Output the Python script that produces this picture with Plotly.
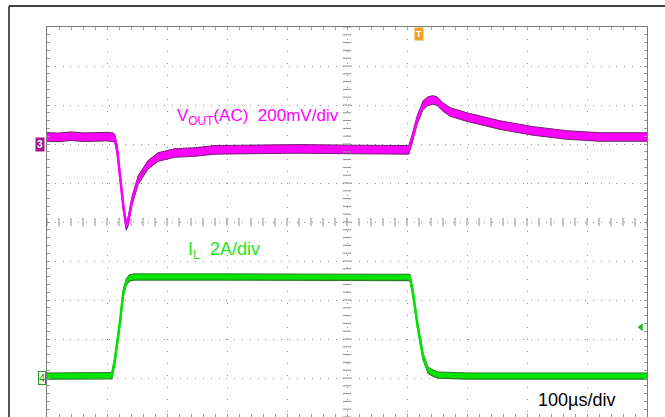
import plotly.graph_objects as go

# ---------------- data (read from the scope capture) ----------------
# time axis in microseconds (100 us/div, 10 divisions)
t_vout = [0, 20, 40, 60, 80, 100, 110, 113, 117, 122, 127, 132, 135, 142, 152, 168,
          185, 213, 247, 280, 338, 422, 505, 588, 603, 608, 617, 627, 635, 643, 650,
          660, 672, 700, 755, 810, 867, 922, 977, 1000]
# output voltage ripple, AC coupled, mV (200 mV/div)
v_out_mv = [36, 34, 40, 35, 36, 38, 35, 28, -31, -185, -313, -420, -400, -287, -185, -108,
            -67, -46, -41, -30, -28, -25, -28, -30, -30, 20, 123, 200, 220, 226, 220,
            190, 164, 138, 97, 67, 46, 36, 36, 36]

t_il = [0, 100, 108, 113, 117, 122, 127, 132, 137, 145, 300, 500, 600, 605, 610, 618,
        627, 635, 643, 652, 700, 850, 1000]
# inductor current, A (2 A/div)
i_l_a = [0.1, 0.1, 0.12, 0.9, 1.8, 2.97, 4.36, 4.92, 5.13, 5.18, 5.18, 5.18, 5.18, 5.16,
         4.36, 2.62, 1.08, 0.41, 0.26, 0.15, 0.1, 0.1, 0.1]

trigger_time_us = 620
trigger_level_a = 2.6

# ---------------- styling ----------------
V_PER_DIV = 200.0
A_PER_DIV = 2.0
US_PER_DIV = 100.0
V_ZERO_DIV = 7   # channel 3 reference, divisions above bottom
A_ZERO_DIV = 1   # channel 4 reference
V_NOISE = 22.0   # half band of trace noise (mV)
A_NOISE = 0.16   # half band of trace noise (A)

MAGENTA = "#ff00ff"
MAG_EDGE = "#6e1f66"
GREEN = "#00e600"
GRN_EDGE = "#2d7a2d"
GRID = "#8f8f8f"
FONT = "Liberation Sans, Arial, sans-serif"

v_lo = -V_ZERO_DIV * V_PER_DIV
v_hi = (10 - V_ZERO_DIV) * V_PER_DIV
a_lo = -A_ZERO_DIV * A_PER_DIV
a_hi = (10 - A_ZERO_DIV) * A_PER_DIV

fig = go.Figure()

# Inductor current band
fig.add_trace(go.Scatter(x=t_il, y=[v + A_NOISE for v in i_l_a], yaxis="y2",
                         mode="lines", line=dict(color=GRN_EDGE, width=1),
                         showlegend=False, hoverinfo="skip"))
fig.add_trace(go.Scatter(x=t_il, y=[v - A_NOISE for v in i_l_a], yaxis="y2",
                         mode="lines", line=dict(color=GRN_EDGE, width=1.3),
                         fill="tonexty", fillcolor=GREEN,
                         showlegend=False, hoverinfo="skip"))
fig.add_trace(go.Scatter(x=t_il, y=i_l_a, yaxis="y2", mode="lines",
                         line=dict(color=GREEN, width=2.5),
                         showlegend=False, hoverinfo="skip"))

# Output voltage band
fig.add_trace(go.Scatter(x=t_vout, y=[v + V_NOISE for v in v_out_mv],
                         mode="lines", line=dict(color=MAG_EDGE, width=1),
                         showlegend=False, hoverinfo="skip"))
fig.add_trace(go.Scatter(x=t_vout, y=[v - V_NOISE for v in v_out_mv],
                         mode="lines", line=dict(color=MAG_EDGE, width=1),
                         fill="tonexty", fillcolor=MAGENTA,
                         showlegend=False, hoverinfo="skip"))
fig.add_trace(go.Scatter(x=t_vout, y=v_out_mv, mode="lines",
                         line=dict(color=MAGENTA, width=2.5),
                         showlegend=False, hoverinfo="skip"))

# center-line graticule ticks
x_min = [k * US_PER_DIV / 5 for k in range(51)]
y_min = [v_lo + k * V_PER_DIV / 5 for k in range(51)]
x_mid = 5 * US_PER_DIV
y_mid = v_lo + 5 * V_PER_DIV
fig.add_trace(go.Scatter(x=x_min, y=[y_mid] * len(x_min), mode="markers",
                         marker=dict(symbol="line-ns", size=6,
                                     line=dict(color=GRID, width=1)),
                         showlegend=False, hoverinfo="skip"))
fig.add_trace(go.Scatter(x=[x_mid] * len(y_min), y=y_min, mode="markers",
                         marker=dict(symbol="line-ew", size=6,
                                     line=dict(color=GRID, width=1)),
                         showlegend=False, hoverinfo="skip"))

# trigger level arrow (right edge)
fig.add_trace(go.Scatter(x=[990], y=[trigger_level_a], yaxis="y2", mode="markers",
                         marker=dict(symbol="triangle-left", size=7, color="#22bb22"),
                         showlegend=False, hoverinfo="skip", cliponaxis=False))

W, H = 665, 417
x0p, x1p = 47 / W, 647 / W
ytop = (H - 27) / H

fig.update_layout(
    width=W, height=H,
    margin=dict(l=0, r=0, t=0, b=0),
    paper_bgcolor="white", plot_bgcolor="white",
    showlegend=False,
    xaxis=dict(domain=[x0p, x1p], range=[0, 10 * US_PER_DIV], dtick=US_PER_DIV,
               showgrid=True, gridcolor=GRID, gridwidth=1, griddash="1px,11px",
               showline=True, linecolor="#7a7a7a", linewidth=1, mirror="ticks",
               ticks="inside", ticklen=3, tickcolor="#9a9a9a",
               minor=dict(dtick=US_PER_DIV / 5, ticks="inside", ticklen=3,
                          tickcolor="#9a9a9a", showgrid=False),
               showticklabels=False, zeroline=False, fixedrange=True),
    yaxis=dict(domain=[0, ytop], range=[v_lo, v_hi], dtick=V_PER_DIV,
               showgrid=True, gridcolor=GRID, gridwidth=1, griddash="1px,6.8px",
               showline=True, linecolor="#7a7a7a", linewidth=1, mirror="ticks",
               ticks="inside", ticklen=3, tickcolor="#9a9a9a",
               minor=dict(dtick=V_PER_DIV / 5, ticks="inside", ticklen=3,
                          tickcolor="#9a9a9a", showgrid=False),
               showticklabels=False, zeroline=False, fixedrange=True),
    yaxis2=dict(overlaying="y", range=[a_lo, a_hi], showgrid=False, showline=False,
                ticks="", showticklabels=False, zeroline=False, fixedrange=True),
    shapes=[
        dict(type="line", xref="paper", yref="paper", x0=9 / W, x1=1,
             y0=1 - 6 / H, y1=1 - 6 / H, line=dict(color="black", width=1.5)),
        dict(type="line", xref="paper", yref="paper", x0=9 / W, x1=9 / W,
             y0=0, y1=1 - 6 / H, line=dict(color="#555555", width=2)),
    ],
    annotations=[
        dict(text="V<sub>OUT</sub>(AC)\u00a0\u00a0200mV/div", x=213, y=138,
             xref="x", yref="y", xanchor="left", yanchor="middle", showarrow=False,
             font=dict(family=FONT, size=17, color=MAGENTA)),
        dict(text="I<sub>L</sub>\u00a0\u00a02A/div", x=232, y=6.56,
             xref="x", yref="y2", xanchor="left", yanchor="middle", showarrow=False,
             font=dict(family=FONT, size=18, color="#22e622")),
        dict(text="100µs/div", x=815, y=-1313, xref="x", yref="y",
             xanchor="left", yanchor="middle", showarrow=False,
             font=dict(family=FONT, size=18, color="black")),
        dict(text="<b>3</b>", x=45 / W, y=0, xref="paper", yref="y", xanchor="right",
             yanchor="middle", showarrow=False, bgcolor="#a3148f", borderpad=1,
             font=dict(family=FONT, size=10, color="white")),
        dict(text="4", x=46 / W, y=0, xref="paper", yref="y2", xanchor="right",
             yanchor="middle", showarrow=False, bgcolor="white", borderpad=0,
             bordercolor="#229922", borderwidth=1,
             font=dict(family=FONT, size=11, color="#229922")),
        dict(text="<b>T</b>", x=trigger_time_us, y=ytop, xref="x", yref="paper",
             xanchor="center", yanchor="top", showarrow=False, bgcolor="#f5a020",
             borderpad=1, font=dict(family=FONT, size=9, color="white")),
    ],
)

fig.write_html("out.html",
               config={"displayModeBar": False, "staticPlot": True},
               post_script="document.body.style.margin='0';"
                           "document.body.style.overflow='hidden';")
